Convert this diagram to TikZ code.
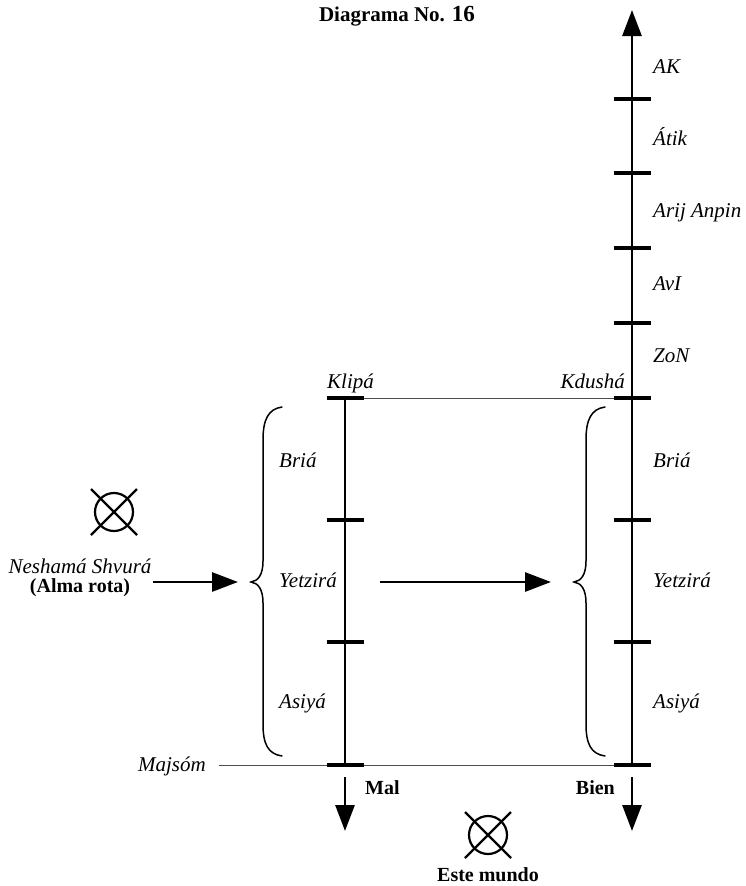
\documentclass[tikz,border=0pt]{standalone}
\usepackage{fontspec}
\setmainfont{Liberation Serif}
\usetikzlibrary{arrows.meta,calc}
\begin{document}
\begin{tikzpicture}[x=1pt,y=-1pt,
  axisline/.style={line width=2.8pt},
  tickmark/.style={line width=3.6pt},
  thinline/.style={line width=1pt, black!70},
  bigarrow/.style={line width=2.8pt, -{Triangle[length=26pt,width=19pt]}},
  bracestyle/.style={line width=1.5pt, line cap=round},
  lab/.style={font=\fontsize{21}{25}\selectfont\itshape, inner sep=0pt, anchor=base west},
  blab/.style={font=\fontsize{20}{24}\selectfont\bfseries, inner sep=0pt},
  crossmark/.style={line width=2.2pt},
]
\useasboundingbox (0,0) rectangle (745,886);

% axis points
\coordinate (rtop) at (632,10);
\coordinate (r1) at (632,99);
\coordinate (r2) at (632,173);
\coordinate (r3) at (632,248);
\coordinate (r4) at (632,323);
\coordinate (r5) at (632,398);
\coordinate (r6) at (632,520);
\coordinate (r7) at (632,642);
\coordinate (r8) at (632,765);
\coordinate (l5) at (345,398);
\coordinate (l6) at (345,520);
\coordinate (l7) at (345,642);
\coordinate (l8) at (345,765);
\coordinate (mstart) at (219,765);

% thin horizontal lines
\draw[thinline] (l5) -- (r5);
\draw[thinline] (mstart) -- (r8);

% axes
\draw[axisline, -{Triangle[length=26pt,width=19pt]}] (r8) -- (rtop);
\draw[axisline] (l5) -- (l8);

% ticks
\foreach \p in {r1,r2,r3,r4,r5,r6,r7,r8,l5,l6,l7,l8}
  \draw[tickmark] ($(\p)+(-18.5,0)$) -- ($(\p)+(18.5,0)$);

% down arrows
\coordinate (ld1) at (345,777);
\coordinate (ld2) at (345,831);
\coordinate (rd1) at (632,777);
\coordinate (rd2) at (632,831);
\draw[bigarrow] (ld1) -- (ld2);
\draw[bigarrow] (rd1) -- (rd2);

% horizontal arrows
\coordinate (a1s) at (153,582);
\coordinate (a1e) at (238,582);
\coordinate (a2s) at (380,582);
\coordinate (a2e) at (551,582);
\draw[bigarrow] (a1s) -- (a1e);
\draw[bigarrow] (a2s) -- (a2e);

% braces
\draw[bracestyle] (282,407) .. controls (268,409) and (263,420) .. (263,440)
  -- (263,561) .. controls (263,575) and (258,581) .. (251,582)
  .. controls (258,583) and (263,589) .. (263,603)
  -- (263,724) .. controls (263,744) and (268,754) .. (282,756);
\draw[bracestyle] (605,407) .. controls (591,409) and (586,420) .. (586,440)
  -- (586,561) .. controls (586,575) and (581,581) .. (574,582)
  .. controls (581,583) and (586,589) .. (586,603)
  -- (586,724) .. controls (586,744) and (591,754) .. (605,756);

% cross-circles
\coordinate (c1) at (114,512);
\coordinate (c2) at (488,835);
\foreach \c in {c1,c2}{
  \draw[crossmark] (\c) circle (19);
  \draw[crossmark] ($(\c)+(-23,-23)$) -- ($(\c)+(23,23)$);
  \draw[crossmark] ($(\c)+(-23,23)$) -- ($(\c)+(23,-23)$);
}

% right labels
\node[lab] (tAK) at (653,73) {AK};
\node[lab] (tAtik) at (653,145) {Átik};
\node[lab] (tArij) at (653,217) {Arij Anpin};
\node[lab] (tAvI) at (653,290) {AvI};
\node[lab] (tZoN) at (653,362) {ZoN};
\node[lab] (tBriaR) at (653,467) {Briá};
\node[lab] (tYetR) at (653,587) {Yetzirá};
\node[lab] (tAsiR) at (653,708) {Asiyá};

% left labels
\node[lab] (tBriaL) at (279,467) {Briá};
\node[lab] (tYetL) at (279,587) {Yetzirá};
\node[lab] (tAsiL) at (279,708) {Asiyá};

\node[lab] (tKlipa) at (327,388) {Klipá};
\node[lab, anchor=base east] (tKdusha) at (625,388) {Kdushá};
\node[lab, anchor=base east] (tMajsom) at (206,771) {Majsóm};

\node[blab, anchor=base west] (tMal) at (365,794) {Mal};
\node[blab, anchor=base east] (tBien) at (615,794) {Bien};
\node[blab, anchor=base] (tMundo) at (488,881) {Este mundo};

\node[lab, anchor=base] (tNesh) at (80,573) {Neshamá Shvurá};
\node[blab, anchor=base] (tAlma) at (80,592) {(Alma rota)};

\node[blab, anchor=base, font=\fontsize{21}{25}\selectfont\bfseries] (title) at (397,21) {Diagrama No. {\fontsize{23}{25}\selectfont 16}};
\end{tikzpicture}
\end{document}
